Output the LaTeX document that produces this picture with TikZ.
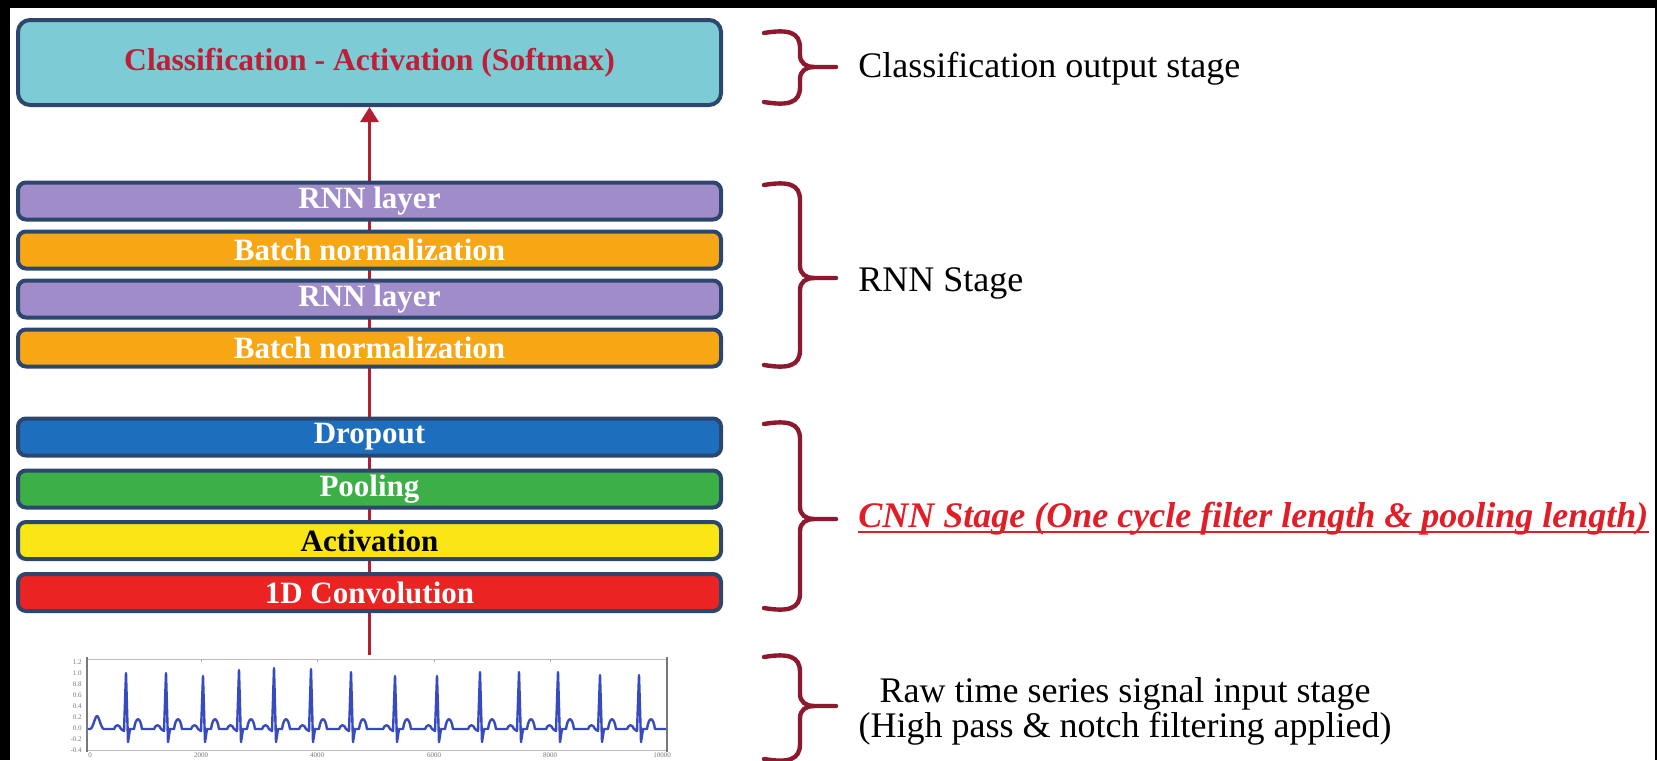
\documentclass[tikz,border=0pt]{standalone}
\usepackage{fontspec}
\setmainfont{Liberation Serif}
\usetikzlibrary{arrows.meta,backgrounds,fit}

\definecolor{boxedge}{RGB}{45,70,110}
\definecolor{clsfill}{RGB}{125,203,213}
\definecolor{clstext}{RGB}{190,30,55}
\definecolor{rnnfill}{RGB}{160,140,200}
\definecolor{bnfill}{RGB}{247,166,20}
\definecolor{dropfill}{RGB}{30,110,190}
\definecolor{poolfill}{RGB}{60,175,70}
\definecolor{actfill}{RGB}{250,230,20}
\definecolor{convfill}{RGB}{235,35,35}
\definecolor{flowred}{RGB}{180,30,50}
\definecolor{bracecol}{RGB}{140,25,45}
\definecolor{cnnred}{RGB}{225,30,40}
\definecolor{ecgblue}{RGB}{55,75,190}
\definecolor{axisgray}{RGB}{120,120,120}

% right-hand curly brace: top, tip and bottom heights
\newcommand\stagebrace[3]{%
  \draw[brace] (764,#1+3) .. controls (788,#1-1) and (800,#1+2) .. (800,#1+18)
    -- (800,#2-12) .. controls (800,#2-4) and (806,#2) .. (814,#2) -- (836,#2);
  \draw[brace] (814,#2) .. controls (806,#2) and (800,#2+4) .. (800,#2+12)
    -- (800,#3-18) .. controls (800,#3-2) and (788,#3+1) .. (764,#3-3);}

\begin{document}
\begin{tikzpicture}[x=0.5pt,y=-0.5pt,
  layer/.style={draw=boxedge, line width=2pt, rounded corners=4pt,
    minimum width=351.5pt, minimum height=18.5pt, inner sep=0pt,
    font=\fontsize{15.5}{17}\selectfont\bfseries, text=white},
  clsbox/.style={draw=boxedge, line width=2pt, rounded corners=6pt,
    minimum width=351.5pt, minimum height=42.5pt, inner sep=0pt, fill=clsfill,
    font=\fontsize{15.8}{17}\selectfont\bfseries, text=clstext},
  stagetext/.style={inner sep=0pt, font=\fontsize{18}{16.5}\selectfont},
  brace/.style={draw=bracecol, line width=2.2pt, line cap=round},
  flow/.style={draw=flowred, line width=1.5pt},
  ecgline/.style={draw=ecgblue, line width=1.2pt, line join=round},
  ticklab/.style={inner sep=0pt, text=axisgray, font=\fontsize{3.5}{4}\selectfont}]

\useasboundingbox (0,0) rectangle (1657,760);

% output stage
\node[clsbox] (cls) at (369.5,62.5) {Classification - Activation (Softmax)};

% recurrent stage
\node[layer, fill=rnnfill] (rnnA) at (369.5,201) {RNN layer};
\node[layer, fill=bnfill]  (bnA)  at (369.5,250) {Batch normalization};
\node[layer, fill=rnnfill] (rnnB) at (369.5,299) {RNN layer};
\node[layer, fill=bnfill]  (bnB)  at (369.5,348) {Batch normalization};

% convolutional stage
\node[layer, fill=dropfill] (drop) at (369.5,437) {Dropout};
\node[layer, fill=poolfill] (pool) at (369.5,489) {Pooling};
\node[layer, fill=actfill, text=black] (act) at (369.5,540.5) {Activation};
\node[layer, fill=convfill] (conv) at (369.5,592.5) {1D Convolution};

% input signal plot
\node[fit={(87,659)(667,750)}, inner sep=0pt] (ecg) {};
\draw[axisgray!50, line width=0.5pt] (87,659) -- (667,659);
\draw[axisgray!50, line width=0.5pt] (87,750) -- (667,750);
\draw[axisgray, line width=1pt] (87,657) -- (87,752);
\draw[axisgray, line width=1pt] (667,657) -- (667,752);
\foreach \t in {201,317,434,550} \draw[axisgray!60, line width=0.5pt] (\t,659) -- (\t,662);
\foreach \i/\v in {0/1.2,1/1.0,2/0.8,3/0.6,4/0.4,5/0.2,6/0.0,7/-0.2,8/-0.4}
  \node[ticklab, anchor=east] (ylab\i) at (82,662+\i*11) {\v};
\foreach \i/\x/\v in {0/90/0,1/201/2000,2/317/4000,3/434/6000,4/550/8000,5/662/10000}
  \node[ticklab] (xlab\i) at (\x,755) {\v};

\draw[ecgline] (88,729) -- (90,729) .. controls (93,729) and (95,716) .. (97,716)
  .. controls (99,716) and (101,729) .. (104,729)
  \foreach \p/\h in {126/673,166/673,203/676,239/670,274/668,311/669,351/672,
                     395/676,437/676,480/672,519/672,558/672,600/675,639/675} {
    -- (\p-12,729) .. controls (\p-10,724) and (\p-7,724) .. (\p-5,729)
    -- (\p-2,731) -- (\p,\h) -- (\p+2,742) -- (\p+4,729) -- (\p+8,729)
    .. controls (\p+10,716) and (\p+14,716) .. (\p+16,729)
  } -- (666,729);

% stage labels
\stagebrace{30}{67}{105}
\node[stagetext, anchor=west] (clslab) at (858,69) {Classification output stage};

\stagebrace{182}{278}{368}
\node[stagetext, anchor=west] (rnnlab) at (858,283) {RNN Stage};

\stagebrace{421}{519}{611}
\node[stagetext, anchor=west, text=cnnred, font=\fontsize{18}{16.5}\selectfont\bfseries\itshape]
  (cnnlab) at (858,519) {CNN Stage (One cycle filter length \& pooling length)};
\draw[cnnred, line width=0.9pt] ([yshift=-2.2pt]cnnlab.base west) -- ([yshift=-2.2pt]cnnlab.base east);

\stagebrace{654}{706}{762}
\node[stagetext, align=center] (rawlab) at (1125,711)
  {Raw time series signal input stage\\(High pass \& notch filtering applied)};

\begin{scope}[on background layer]
  \fill[black] (0,0) rectangle (1657,760);
  \fill[white] (10,8) rectangle (1655,760);
  \draw[flow, -{Triangle[length=7.5pt,width=9pt]}] (cls.south |- ecg.north) ++(0,-4) -- (cls.south);
\end{scope}
\end{tikzpicture}
\end{document}
